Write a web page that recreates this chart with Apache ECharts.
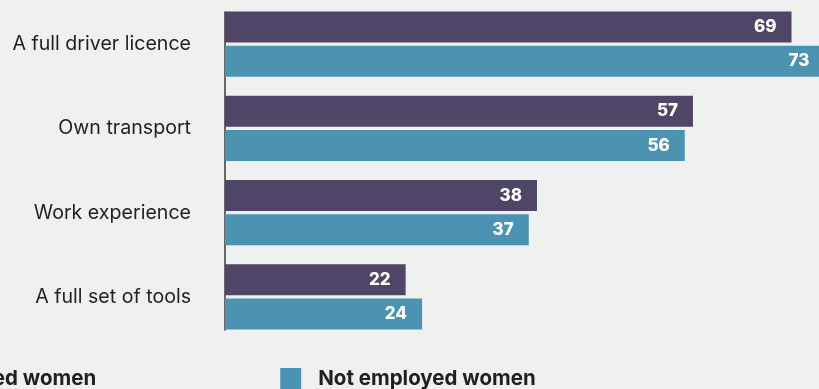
<!DOCTYPE html>
<html>
<head>
<meta charset="utf-8">
<script src="https://cdn.jsdelivr.net/npm/echarts@6/dist/echarts.min.js"></script>
<style>
  html, body { margin: 0; padding: 0; background: #eff0f0; }
  #chart { width: 819px; height: 389px; }
</style>
</head>
<body>
<div id="chart"></div>
<script>
// Share of women holding each work requirement (%)
const categories = ['A full driver licence', 'Own transport', 'Work experience', 'A full set of tools'];
const seriesNames = ['Employed women', 'Not employed women'];
const employed = [69, 57, 38, 22];
const notEmployed = [73, 56, 37, 24];

const PURPLE = '#4f4566';
const TEAL = '#4b93b0';
const FONT = 'Inter, "Noto Sans", sans-serif';

const chart = echarts.init(document.getElementById('chart'));

const barLabel = {
  show: true,
  position: 'insideRight',
  distance: 15,
  color: '#ffffff',
  fontFamily: FONT,
  fontWeight: 800,
  fontSize: 17
};

chart.setOption({
  backgroundColor: '#eff0f0',
  animation: false,
  legend: {
    data: seriesNames,
    left: -119,
    top: 368,
    padding: 0,
    itemWidth: 21,
    itemHeight: 21,
    itemGap: 184,
    icon: 'rect',
    textStyle: { fontFamily: FONT, fontWeight: 'bold', fontSize: 20.5, color: '#231f20', padding: [4, 0, 0, 12] }
  },
  grid: [
    { left: 225, top: 2, width: 821, height: 337, outerBoundsMode: 'none' },
    { left: 225, top: 12, width: 821, height: 318, outerBoundsMode: 'none' }
  ],
  xAxis: [
    { type: 'value', gridIndex: 0, min: 0, max: 100, show: false },
    { type: 'value', gridIndex: 1, min: 0, max: 100, show: false }
  ],
  yAxis: [
    {
      type: 'category', gridIndex: 0, data: categories, inverse: true,
      axisLine: { show: false }, axisTick: { show: false },
      axisLabel: { margin: 34, fontFamily: FONT, fontSize: 19.6, color: '#231f20', padding: [3, 0, 0, 0] }
    },
    {
      type: 'category', gridIndex: 1, data: [''],
      axisLine: { show: true, lineStyle: { color: '#3a3a3a', width: 1.5 } },
      axisTick: { show: false }, axisLabel: { show: false }
    }
  ],
  series: [
    {
      name: seriesNames[0], type: 'bar', data: employed,
      xAxisIndex: 0, yAxisIndex: 0,
      barWidth: 31, barGap: '10%',
      itemStyle: { color: PURPLE },
      label: barLabel
    },
    {
      name: seriesNames[1], type: 'bar', data: notEmployed,
      xAxisIndex: 0, yAxisIndex: 0,
      barWidth: 31, barGap: '10%',
      itemStyle: { color: TEAL },
      label: barLabel
    }
  ]
});
</script>
</body>
</html>
